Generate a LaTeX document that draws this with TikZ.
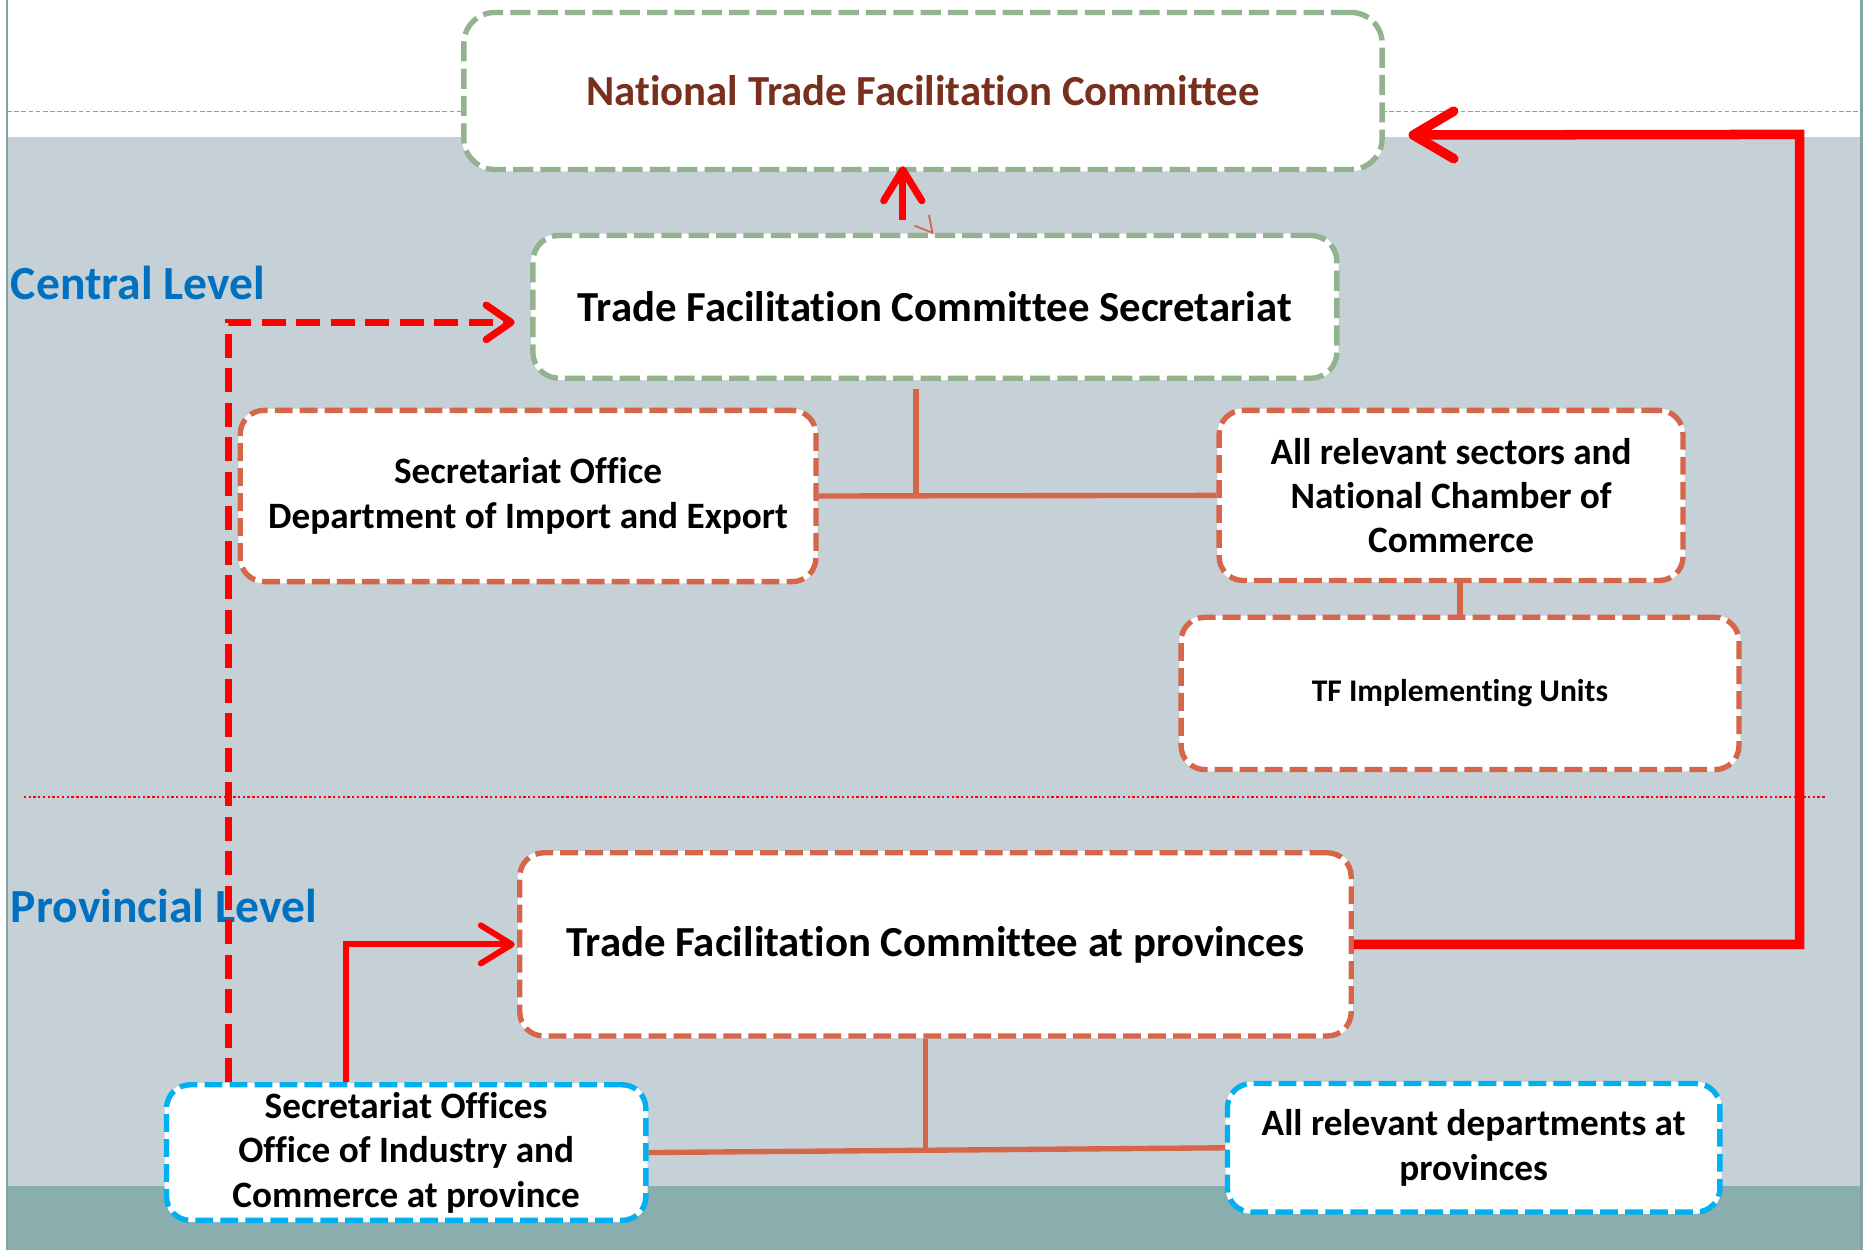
\documentclass[tikz,border=0pt]{standalone}
\usepackage{fontspec}
\setmainfont{Carlito}[Ligatures=NoCommon]
\usetikzlibrary{arrows.meta,calc}
\definecolor{bgl}{HTML}{C5D0D7}
\definecolor{bgd}{HTML}{8AADAD}
\definecolor{edge}{HTML}{86A3A3}
\definecolor{gbox}{HTML}{93B28F}
\definecolor{obox}{HTML}{D6664A}
\definecolor{bbox}{HTML}{00B0F0}
\definecolor{ttl}{HTML}{782F1E}
\definecolor{lvl}{HTML}{0070C0}
\begin{document}
\begin{tikzpicture}[x=1pt,y=-1pt,
  box/.style={draw=#1, line width=4.5pt, dash pattern=on 15pt off 6pt,
    rounded corners=20pt, fill=white, align=center, inner sep=0pt,
    preaction={draw=white, solid, line width=3pt}},
  big/.style={font=\bfseries\fontsize{36}{42}\selectfont},
  mid/.style={font=\bfseries\fontsize{31.3}{37.5}\selectfont},
  lvltxt/.style={anchor=west, inner sep=0pt, text=lvl, font=\bfseries\fontsize{40}{46}\selectfont},
  conn/.style={draw=obox, line width=4.5pt},
  redsolid/.style={draw=red, line width=#1, line cap=butt,
    -{Straight Barb[length=26pt, width=32pt, round]}},
  reddash/.style={draw=red, line width=6pt, dash pattern=on 20pt off 9pt,
    -{Straight Barb[length=21pt, width=29pt, round, sep=0pt]}},
]
\useasboundingbox (0,0) rectangle (1568,1051);
% background
\fill[white] (0,0) rectangle (1568,1051);
\fill[bgl] (6,115) rectangle (1565,997);
\fill[bgd] (6,997) rectangle (1565,1051);
\draw[edge, line width=2pt] (6,0) -- (6,1051);
\draw[edge, line width=2pt] (1565,0) -- (1565,1051);
\draw[edge, line width=1pt, dash pattern=on 4pt off 2pt] (6,94) -- (390,94);
\draw[edge, line width=1pt, dash pattern=on 4pt off 2pt] (1162,94) -- (1565,94);
\draw[red, line width=1.5pt, dash pattern=on 2pt off 2pt] (20,670) -- (1535,670);

% nodes
\node[box=gbox, big, text=ttl, minimum width=772pt, minimum height=132pt, rounded corners=26pt, dash pattern=on 17pt off 6pt] (ntfc) at (776,76.5) {National Trade Facilitation Committee};
\node[box=gbox, big, minimum width=676pt, minimum height=120pt, rounded corners=22pt, dash pattern=on 17pt off 6pt] (sec) at (786,258) {Trade Facilitation Committee Secretariat};
\node[box=obox, mid, minimum width=484pt, minimum height=144pt] (secoff) at (444,417) {Secretariat Office\\Department of Import and Export};
\node[box=obox, mid, font=\bfseries\fontsize{31.3}{37}\selectfont, minimum width=390pt, minimum height=143pt] (allsec) at (1220,416.5) {All relevant sectors and\\National Chamber of\\Commerce};
\node[box=obox, font=\bfseries\fontsize{26.5}{31}\selectfont, minimum width=469pt, minimum height=128pt] (tf) at (1227.5,583) {TF Implementing Units};
\node[box=obox, big, minimum width=699pt, minimum height=154pt] (prov) at (786.5,794) {Trade Facilitation Committee at provinces};
\node[box=bbox, mid, minimum width=403pt, minimum height=114pt] (secoffs) at (341.5,969) {Secretariat Offices\\Office of Industry and\\Commerce at province};
\node[box=bbox, mid, font=\bfseries\fontsize{31.3}{38}\selectfont, minimum width=414pt, minimum height=108pt] (alldepts) at (1239,965) {All relevant departments at\\provinces};

% level labels
\node[lvltxt] (central) at (9,238) {Central Level};
\node[lvltxt] (provl) at (9,762) {Provincial Level};

% orange connectors
\coordinate (j1) at (770,415);
\draw[conn] ([yshift=-7pt]sec.south -| j1) -- (j1);
\draw[conn] (secoff.east) -- (allsec.west);
\draw[conn] (tf.north |- allsec.south) -- (tf.north);
\coordinate (j2) at (778,966);
\draw[conn] (prov.south -| j2) -- (j2);
\draw[conn] (secoffs.east) -- (alldepts.west);
% stray small arrowhead
\draw[obox, line width=1.5pt, line join=miter] ([shift={(-17pt,6pt)}]sec.north) -- ([shift={(-2pt,0pt)}]sec.north) -- ([shift={(-5pt,15pt)}]sec.north);

% red arrows
\draw[redsolid=6pt] ([shift={(-27pt,11pt)}]sec.north) -- ([shift={(-17pt,5pt)}]ntfc.south);
\draw[reddash] ([xshift=-149.5pt]secoffs.north) |- ([shift={(-13pt,-13pt)}]sec.west);
\draw[redsolid=5pt] ([xshift=-50.5pt]secoffs.north) |- ([xshift=-2pt]prov.west);
\coordinate (rc) at (1513,113);
\draw[redsolid=8pt, -{Straight Barb[length=34pt, width=40pt, round]}] (prov.east) -| (rc) -- ([shift={(20pt,-37pt)}]ntfc.east);
\end{tikzpicture}
\end{document}
